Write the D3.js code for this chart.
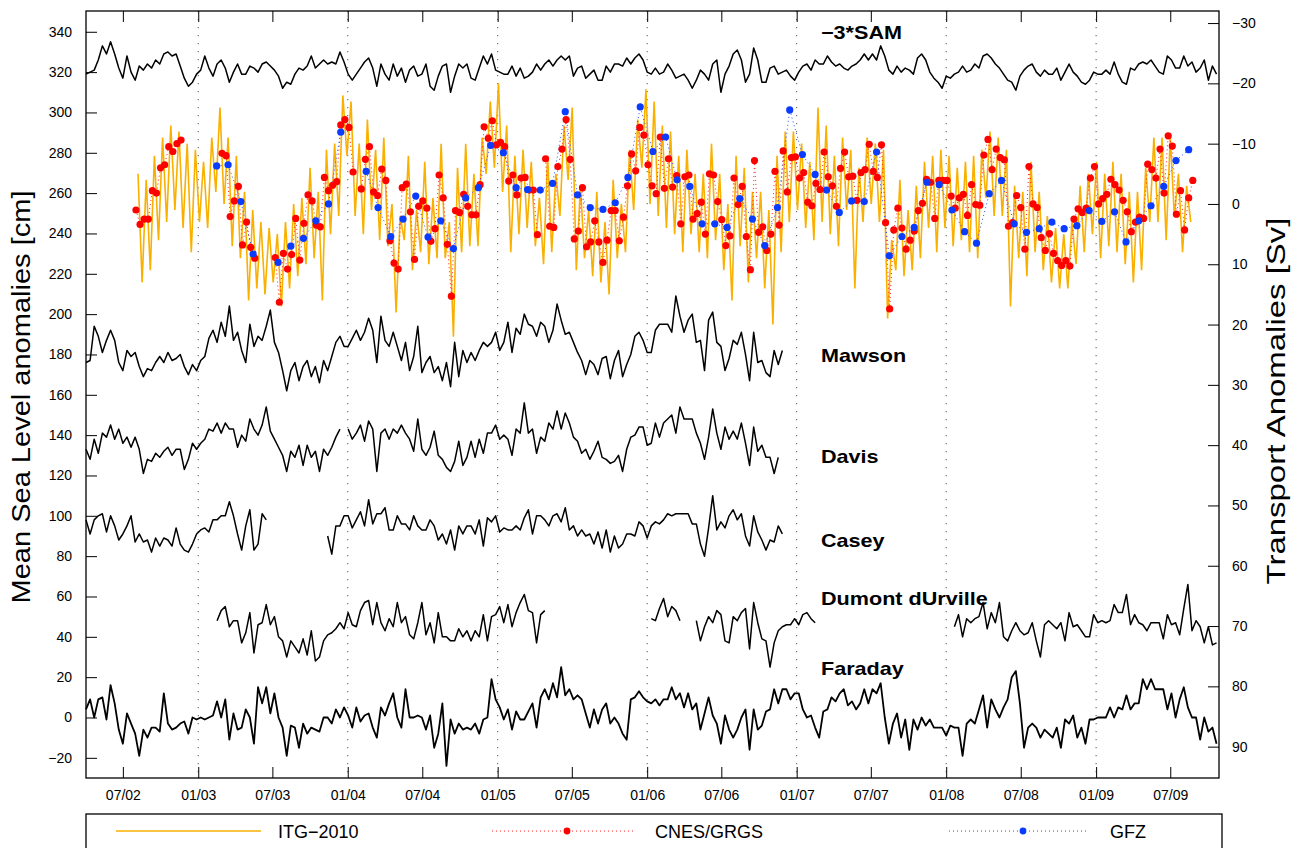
<!DOCTYPE html>
<html>
<head>
<meta charset="utf-8">
<script src="https://cdn.jsdelivr.net/npm/d3@7"></script>
<style>
  body { margin: 0; background: #fff; }
  svg text { font-family: "Liberation Sans", Arial, Helvetica, sans-serif; }
</style>
</head>
<body>
<svg id="chart" width="1302" height="848"></svg>
<script>

// ---- data ----
// tide gauges and SAM: one value every 10 days from 2002-04-02 (cm)
var gaugeStart = "2002-04-02";
var gap = function(n) { return Array(n).fill(null); };

var sam = [
  319,320,321,326,333,329,335,329,322,317,328,320,316,323,321,324,322,326,324,329,
  330,328,329,323,317,313,315,319,321,328,322,318,324,326,322,315,320,324,319,319,
  323,322,320,324,325,323,321,318,312,315,314,319,322,321,323,328,322,324,326,324,
  325,324,330,325,319,316,319,322,325,327,322,313,324,319,316,324,318,322,315,321,
  323,318,319,324,313,311,318,323,324,310,318,324,322,324,317,316,
  322,328,324,329,321,320,319,319,323,318,322,317,318,320,324,321,324,326,323,326,
  328,326,328,318,322,323,317,319,321,316,316,323,320,324,324,323,327,324,327,329,
  326,320,319,322,319,320,324,321,317,318,319,316,312,316,321,319,316,324,326,310,
  319,323,329,331,326,315,319,332,326,315,315,322,323,319,320,321,318,316,320,323,
  324,321,326,324,324,328,325,323,324,322,321,323,324,
  326,329,326,329,326,333,328,321,319,323,320,322,321,319,327,329,326,320,317,315,
  312,318,317,319,320,323,320,321,324,322,328,329,327,324,322,319,316,315,311,318,
  321,323,324,320,318,321,319,319,322,316,320,324,320,318,315,314,316,320,319,319,
  321,319,325,319,315,314,322,321,324,325,324,326,323,320,319,328,326,322,322,328,
  323,325,320,322,326,316,323,319
];

var mawson = [
  176,177,194,189,181,187,192,187,176,172,182,179,181,174,169,173,172,176,179,176,
  181,177,178,180,174,170,175,172,177,179,188,192,186,196,189,204,187,191,182,176,
  195,184,189,187,194,202,186,181,172,162,172,176,167,174,177,169,174,166,177,172,
  179,186,189,184,184,188,192,187,191,198,192,176,199,187,184,191,184,177,186,172,
  179,194,171,176,179,171,174,167,176,164,186,169,182,176,181,177,
  182,186,184,186,191,182,186,196,181,193,190,200,195,194,189,196,194,186,192,205,
  197,190,191,186,181,177,170,177,175,170,178,179,168,177,182,169,175,180,189,191,
  187,181,181,192,195,195,195,191,209,199,191,197,200,186,187,172,197,201,186,184,
  172,178,187,185,191,180,167,191,176,177,171,169,182,175,182
];

var davis = [
  133,128,138,131,141,139,145,138,143,136,139,134,139,133,121,128,127,131,129,132,
  134,130,133,133,123,128,136,133,136,138,143,142,146,141,146,143,143,134,140,137,
  148,143,140,145,154,142,138,134,130,122,132,129,135,125,135,129,132,122,133,130,
  134,139,143,null,143,138,141,145,137,147,143,122,141,143,138,143,141,145,141,138,
  132,148,133,130,134,142,130,128,124,122,127,137,125,129,137,129,
  138,131,141,141,145,138,140,138,130,143,141,156,141,143,131,139,137,146,143,152,
  143,151,146,139,137,131,133,128,132,137,129,128,126,127,130,122,133,139,140,144,
  144,135,136,146,139,146,148,150,141,154,148,148,148,141,136,128,139,153,141,133,
  144,138,142,138,146,136,125,144,132,135,129,129,121,129
];

var casey = [
  98,91,98,100,101,92,100,95,88,91,95,100,87,91,87,88,82,89,85,89,
  88,85,94,86,83,82,86,91,93,94,92,98,98,100,100,107,100,91,83,95,
  103,83,86,101,98
].concat(gap(14), [
  90,81,95,95,100,100,94,98,102,95,108,96,101,101,104,93,93,100,96,96,
  93,100,95,93,93,98,95,88,91,86,93,83,95,91,95,95,91,
  98,85,99,97,100,92,94,93,93,95,93,99,103,91,100,100,98,95,100,101,
  97,104,93,95,90,93,90,91,86,92,84,93,82,90,84,86,91,91,90,97,
  95,89,95,97,96,98,101,100,101,101,101,101,96,96,86,80,94,110,93,97,
  94,100,103,98,101,90,85,100,92,88,83,88,87,95,91
]);

var dumont = gap(32).concat([
  48,53,55,45,48,48,37,42,52,32,46,47,56,46,50,40,38,30,38,35,
  32,39,31,43,28,30,38,41,42,44,47,44,52,46,45,53,57,58,46,57,
  47,43,49,45,57,47,50,41,39,47,57,41,47,37,52,40,40,38,38,44,
  40,43,38,43,
  40,51,38,50,51,55,47,56,45,52,57,61,53,52,37,51,53
], gap(25), [
  49,48,54,59,50,55,53,48
], gap(3), [
  48,38,45,50,47,53,51,38,37,50,48,52,54,34,57,47,39,38,25,37,
  43,45,46,46,49,46,51,52,49,47
], gap(33), [
  45,51,40,49,47,49,50,57,44,52,47,57,40,38,43,47,43,41,42,47,
  38,30,46,48,46,44,47,38,52,45,46,43,40,40,51,47,48,47,48,56,
  52,52,61,46,51,47,46,43,47,47,47,39,51,46,47,41,54,66,43,48,
  45,37,45,36,37
]);

var faraday = [
  4,9,0,9,10,-1,16,7,-6,-13,2,-3,-8,-19,-6,-10,-5,-5,-7,12,
  -3,-6,-5,-3,-2,-8,0,-1,0,-1,0,1,8,0,9,-11,2,-6,-5,4,
  0,-13,15,7,15,2,12,0,-5,-19,-4,-5,-15,-3,-8,-5,-6,-7,0,0,
  -3,4,0,5,1,-5,5,-2,1,2,-5,-10,5,1,7,12,0,-5,14,0,
  0,1,0,-6,1,-15,-8,7,-24,-1,-8,-3,-6,-5,-6,-3,
  -8,-1,0,19,9,5,-1,4,-6,3,-1,-1,3,7,-5,10,14,9,17,10,
  25,11,14,9,11,9,2,-5,4,-3,4,7,-3,0,-3,-8,-11,9,10,13,
  10,8,7,9,6,9,9,15,9,12,5,12,4,7,-6,2,10,1,-3,-13,
  1,-6,-10,-6,0,4,-16,4,-6,-4,3,4,14,7,14,14,9,12,12,4,
  0,1,-5,-10,3,4,10,8,12,14,6,8,4,
  7,14,7,14,12,17,0,-13,-3,2,-10,-1,-16,-1,-6,0,-4,-1,-5,-5,
  -5,-9,-4,-5,-5,-19,-3,-1,-3,4,11,-5,9,4,0,5,9,20,23,7,
  -15,-5,-3,-5,-10,-6,-8,-10,-5,-15,-1,-3,1,-10,-5,-13,-1,-1,0,0,
  0,5,0,5,4,11,4,7,7,19,14,19,14,14,14,4,12,0,9,15,
  5,0,0,-11,0,-7,-5,-13
];

// GRACE transports (Sv, right axis)
var itgStart = "2002-08-07";   // ITG-2010, every 10 days
var itg = [
  -5,13,-4,11,-8,6,-11,3,-13,1,-12,4,-10,8,-9,3,-7,4,-11,-2,
  -16,0,-11,7,-8,9,-2,16,1,14,3,15,4,13,5,17,3,14,0,12,
  -1,10,-6,9,-2,16,-9,5,-10,2,-18,-8,-17,2,-10,5,-14,1,-9,6,
  -11,7,0,18,2,6,-8,11,1,8,-7,10,-1,9,-10,9,3,22,-6,8,
  -10,7,-5,7,-11,-5,-17,-6,-20,-2,-13,8,-8,5,-9,4,-7,7,-1,10,
  -8,8,-5,2,-13,-4,-16,11,-3,9,1,12,-2,13,3,15,-4,9,0,8,
  -9,1,-14,-6,-19,0,-17,2,-13,4,-12,5,-8,8,-9,5,-5,8,-5,9,
  -10,6,-5,11,0,16,-8,7,-6,13,-2,9,-2,14,1,20,-8,8,-12,3,
  -12,1,-10,4,-7,6,-16,3,-13,5,-8,7,-11,1,-9,14,-6,3,-11,0,
  -10,3,-9,19,6,11,-4,12,1,11,-3,9,-7,4,-8,8,-9,4,-8,7,
  -6,6,-7,8,-8,9,-9,-1,-12,2,-11,2,-9,17,-3,9,-2,12,-7,8,
  -2,11,2,13,4,14,5,14,3,10,-3,8,-5,5,-7,9,-5,7,-7,8,
  -5,10,-2,13,-2,11,-6,3,-11,3,-11,6,-11,2,-5,8,-3,3
];

var cnesStart = "2002-08-02";  // CNES/GRGS, 10-day solutions
var cnes = [
  1.0,3.4,2.5,2.5,-2.2,-1.8,-6.0,-6.5,-9.5,-8.7,-10.0,-10.6,null,null,null,null,null,null,null,null,
  null,-8.4,-8.0,2.1,-0.5,-2.9,6.8,3.0,7.2,9.0,null,null,null,null,8.9,16.3,8.2,10.8,8.4,2.4,
  9.3,3.2,-1.5,-0.5,3.5,3.8,-4.4,-2.2,-3.1,-3.7,-13.1,-14.0,-12.7,-5.3,null,-2.5,-7.4,-9.5,-2.0,-1.4,
  -5.8,-3.9,6.1,9.8,10.8,-2.7,-3.3,1.3,9.2,0.4,-0.5,0.7,6.2,4.1,-4.8,-1.0,6.7,15.3,1.1,1.4,
  -1.6,0.4,1.8,1.8,-3.2,-12.8,-10.9,-13.8,-9.8,-10.2,-9.5,-3.8,-4.8,-1.5,-4.3,-4.4,-2.3,-2.3,5.1,null,
  -7.5,3.7,3.9,-6.2,-9.1,-14.0,-7.4,5.8,4.5,-2.7,7.1,6.3,2.8,6.3,9.7,6.0,1.1,1.1,6.1,2.2,
  -3.0,-8.3,-5.5,-12.7,-11.4,-6.5,-3.0,-1.7,-11.1,-2.6,-7.5,-2.8,-4.7,3.3,-4.5,-4.8,2.5,1.6,-0.3,5.0,
  -5.0,-4.8,-0.4,2.6,6.9,5.3,-4.3,0.1,-2.9,5.4,10.9,-7.2,4.7,3.8,7.7,5.0,-5.4,3.5,-8.8,-2.0,
  -7.7,-7.8,-4.3,-5.2,-0.3,0.3,-3.4,-2.4,-8.6,-4.5,-3.0,0.4,-5.9,-8.6,-4.5,-4.6,-0.6,-5.2,-5.7,-9.9,
  -5.4,-4.4,-9.8,3.1,17.4,4.3,0.7,4.0,7.5,6.0,4.5,1.1,-0.1,-4.1,-3.6,2.4,-3.9,-3.9,-3.9,-1.3,
  0.7,-1.0,-1.6,1.9,-3.2,0.1,0.2,-8.1,-10.7,-5.7,-9.1,-7.7,-7.3,3.7,3.1,-1.4,0.6,7.5,-6.2,0.0,
  0.6,5.6,7.7,4.9,8.2,9.4,10.2,9.4,10.3,2.5,0.8,1.4,0.7,-4.3,-6.2,0.0,-0.9,-1.6,-4.1,-3.2,
  -2.3,-0.6,1.3,4.6,3.0,2.2,2.4,-6.6,-5.7,-4.3,-9.1,-1.8,-11.3,-9.6,1.7,-2.2,4.3,-1.0,-3.9
];

var gfzStart = "2003-02-15";   // GFZ, monthly
var gfz = [
  -6.3,-6.5,-0.4,8.3,null,9.7,7.0,5.7,2.8,0.0,-11.9,null,-5.4,0.6,5.4,2.5,-1.3,5.5,2.8,7.4,
  -1.0,-2.7,-9.7,-8.5,-2.7,-2.4,-2.3,-3.4,-15.3,-1.5,0.6,0.9,-0.2,-4.4,-16.1,-8.7,-11.1,-4.0,-2.9,3.3,
  3.3,3.9,-0.9,2.5,6.9,0.6,-15.6,-8.2,-4.9,-2.3,1.4,-0.5,-0.4,-8.6,8.6,5.4,3.9,-3.6,-3.2,1.0,
  4.6,6.5,-1.7,-3.9,3.3,4.7,4.1,3.0,4.1,3.6,1.1,2.9,1.3,6.3,2.8,0.3,-2.9,-7.2,-9.0
];

var gaugeLabels = ["\u22123*SAM", "Mawson", "Davis", "Casey", "Dumont dUrville", "Faraday"];
var leftTicks = d3.range(-20, 341, 20);
var rightTicks = d3.range(-30, 91, 10);
var legendNames = ["ITG\u22122010", "CNES/GRGS", "GFZ"];

// ---- layout ----
var plot = {left: 86, right: 1219, top: 11, bottom: 778};
var svg = d3.select("#chart");

var x = d3.scaleUtc()
  .domain([Date.UTC(2002, 3, 2), Date.UTC(2009, 9, 28)])
  .range([plot.left, plot.right]);
var yL = d3.scaleLinear().domain([-30, 350.3]).range([plot.bottom, plot.top]);
var yR = d3.scaleLinear().domain([95.2, -32]).range([plot.bottom, plot.top]);

function byDays(start, step, values) {
  var t0 = Date.parse(start + "T00:00:00Z");
  return values.map(function(v, i) { return {date: new Date(t0 + i * step * 864e5), value: v}; });
}
function byMonths(start, values) {
  var t0 = new Date(Date.parse(start + "T00:00:00Z"));
  return values.map(function(v, i) { return {date: d3.utcMonth.offset(t0, i), value: v}; });
}

var lineL = d3.line().defined(function(d) { return d.value != null; })
  .x(function(d) { return x(d.date); }).y(function(d) { return yL(d.value); });
var lineR = d3.line().defined(function(d) { return d.value != null; })
  .x(function(d) { return x(d.date); }).y(function(d) { return yR(d.value); });

// dotted january lines
var jans = d3.utcYears(Date.UTC(2003, 0, 1), Date.UTC(2009, 1, 1));
svg.append("g").selectAll("line").data(jans).enter().append("line")
  .attr("x1", function(d) { return x(d); }).attr("x2", function(d) { return x(d); })
  .attr("y1", plot.top).attr("y2", plot.bottom)
  .attr("stroke", "#555").attr("stroke-width", 1).attr("stroke-dasharray", "1.2,6.8");

// tide gauges + SAM
[sam, mawson, davis, casey, dumont, faraday].forEach(function(arr, i) {
  svg.append("path")
    .datum(byDays(gaugeStart, 10, arr))
    .attr("d", lineL)
    .attr("fill", "none")
    .attr("stroke", "#000")
    .attr("stroke-width", i == 5 ? 1.8 : 1.5)
    .attr("stroke-linejoin", "round");
});

// GRACE series
var itgData = byDays(itgStart, 10, itg);
var cnesData = byDays(cnesStart, 10, cnes);
var gfzData = byMonths(gfzStart, gfz);

svg.append("path").datum(itgData).attr("d", lineR)
  .attr("fill", "none").attr("stroke", "#f9b000").attr("stroke-width", 1.6);
svg.append("path").datum(cnesData).attr("d", lineR)
  .attr("fill", "none").attr("stroke", "#ff2020").attr("stroke-width", 1).attr("stroke-dasharray", "1,3");
svg.append("path").datum(gfzData).attr("d", lineR)
  .attr("fill", "none").attr("stroke", "#2050ff").attr("stroke-width", 1).attr("stroke-dasharray", "1,3");

svg.append("g").selectAll("circle")
  .data(cnesData.filter(function(d) { return d.value != null; }))
  .enter().append("circle")
  .attr("cx", function(d) { return x(d.date); })
  .attr("cy", function(d) { return yR(d.value); })
  .attr("r", 3.6).attr("fill", "#ff0000");
svg.append("g").selectAll("circle")
  .data(gfzData.filter(function(d) { return d.value != null; }))
  .enter().append("circle")
  .attr("cx", function(d) { return x(d.date); })
  .attr("cy", function(d) { return yR(d.value); })
  .attr("r", 3.6).attr("fill", "#0a3cff");

// station labels
var labelPos = [[821, 39], [821, 362], [821, 463], [821, 547], [821, 605], [821, 675]];
gaugeLabels.forEach(function(t, i) {
  svg.append("text")
    .attr("transform", "translate(" + labelPos[i][0] + "," + labelPos[i][1] + ") scale(1.2,1)")
    .attr("font-size", 18).attr("font-weight", "bold").text(t);
});

// axes
function styleAxis(g) {
  g.select(".domain").remove();
  g.selectAll("text").attr("font-size", 14).attr("fill", "#000")
    .attr("font-family", "Liberation Sans, Arial, sans-serif");
  g.selectAll("line").attr("stroke", "#000");
}
svg.append("g").attr("transform", "translate(" + plot.left + ",0)")
  .call(d3.axisLeft(yL).tickValues(leftTicks).tickSizeInner(-11).tickSizeOuter(0).tickPadding(14))
  .call(styleAxis);
svg.append("g").attr("transform", "translate(" + plot.right + ",0)")
  .call(d3.axisRight(yR).tickValues(rightTicks).tickSizeInner(-11).tickSizeOuter(0).tickPadding(13))
  .call(styleAxis);

var xTicks = d3.utcMonths(Date.UTC(2002, 6, 1), Date.UTC(2009, 7, 1), 6);
svg.append("g").attr("transform", "translate(0," + plot.bottom + ")")
  .call(d3.axisBottom(x).tickValues(xTicks).tickFormat(d3.utcFormat("%m/%y"))
    .tickSizeInner(-11).tickSizeOuter(0).tickPadding(12))
  .call(styleAxis);
svg.append("g").attr("transform", "translate(0," + plot.top + ")")
  .call(d3.axisTop(x).tickValues(xTicks).tickFormat("")
    .tickSizeInner(-11).tickSizeOuter(0))
  .call(styleAxis);

svg.append("rect")
  .attr("x", plot.left).attr("y", plot.top)
  .attr("width", plot.right - plot.left).attr("height", plot.bottom - plot.top)
  .attr("fill", "none").attr("stroke", "#000").attr("stroke-width", 1.3);

// axis titles
svg.append("text")
  .attr("transform", "translate(30,397) rotate(-90)")
  .attr("text-anchor", "middle").attr("font-size", 26)
  .attr("textLength", 413).attr("lengthAdjust", "spacingAndGlyphs")
  .text("Mean Sea Level anomalies [cm]");
svg.append("text")
  .attr("transform", "translate(1285,401) rotate(-90)")
  .attr("text-anchor", "middle").attr("font-size", 26)
  .attr("textLength", 367).attr("lengthAdjust", "spacingAndGlyphs")
  .text("Transport Anomalies [Sv]");

// legend
var legend = svg.append("g");
legend.append("rect").attr("x", 86).attr("y", 814).attr("width", 1136).attr("height", 60)
  .attr("fill", "#fff").attr("stroke", "#000").attr("stroke-width", 1.3);
var ly = 831;
legend.append("line").attr("x1", 116).attr("x2", 261).attr("y1", ly).attr("y2", ly)
  .attr("stroke", "#f9b000").attr("stroke-width", 1.4);
legend.append("line").attr("x1", 492).attr("x2", 634).attr("y1", ly).attr("y2", ly)
  .attr("stroke", "#ff2020").attr("stroke-dasharray", "1,3");
legend.append("circle").attr("cx", 567).attr("cy", ly).attr("r", 3.4).attr("fill", "#ff0000");
legend.append("line").attr("x1", 949).attr("x2", 1089).attr("y1", ly).attr("y2", ly)
  .attr("stroke", "#2050ff").attr("stroke-dasharray", "1,3");
legend.append("circle").attr("cx", 1023).attr("cy", ly).attr("r", 3.4).attr("fill", "#0a3cff");
[278, 655, 1110].forEach(function(lx, i) {
  legend.append("text").attr("x", lx).attr("y", ly + 7).attr("font-size", 18).text(legendNames[i]);
});

</script>
</body>
</html>
